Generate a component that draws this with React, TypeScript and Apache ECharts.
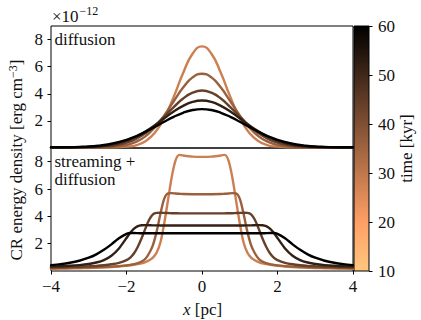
import React, { useEffect, useRef } from "react";
import * as echarts from "echarts";

const FONT = "Liberation Serif";
const TEXT = "#111";

// times (kyr) of the five snapshots, lightest -> darkest
const timesKyr = [28, 36, 44, 52, 60];
const colorbarTicks = [10, 20, 30, 40, 50, 60];
const xTicks = [-4, -2, 0, 2, 4];
const yTicks = [2, 4, 6, 8];

// ---- top panel: diffusion only (units of 1e-12 erg cm^-3) ----
const diffX = [-4, -3.75, -3.5, -3.25, -3, -2.75, -2.5, -2.25, -2, -1.75, -1.5, -1.25, -1, -0.75, -0.5, -0.25, 0, 0.25, 0.5, 0.75, 1, 1.25, 1.5, 1.75, 2, 2.25, 2.5, 2.75, 3, 3.25, 3.5, 3.75, 4];
const diffT28 = [0.04, 0.04, 0.04, 0.04, 0.04, 0.04, 0.05, 0.06, 0.1, 0.2, 0.5, 1.12, 2.21, 3.77, 5.53, 6.95, 7.5, 6.95, 5.53, 3.77, 2.21, 1.12, 0.5, 0.2, 0.1, 0.06, 0.05, 0.04, 0.04, 0.04, 0.04, 0.04, 0.04];
const diffT36 = [0.04, 0.04, 0.04, 0.04, 0.04, 0.05, 0.06, 0.11, 0.22, 0.45, 0.86, 1.52, 2.41, 3.45, 4.46, 5.21, 5.48, 5.21, 4.46, 3.45, 2.41, 1.52, 0.86, 0.45, 0.22, 0.11, 0.06, 0.05, 0.04, 0.04, 0.04, 0.04, 0.04];
const diffT44 = [0.04, 0.04, 0.04, 0.04, 0.05, 0.07, 0.12, 0.22, 0.39, 0.67, 1.09, 1.65, 2.32, 3.02, 3.65, 4.08, 4.24, 4.08, 3.65, 3.02, 2.32, 1.65, 1.09, 0.67, 0.39, 0.22, 0.12, 0.07, 0.05, 0.04, 0.04, 0.04, 0.04];
const diffT52 = [0.04, 0.04, 0.05, 0.06, 0.08, 0.12, 0.2, 0.33, 0.54, 0.83, 1.21, 1.68, 2.19, 2.69, 3.11, 3.4, 3.5, 3.4, 3.11, 2.69, 2.19, 1.68, 1.21, 0.83, 0.54, 0.33, 0.2, 0.12, 0.08, 0.06, 0.05, 0.04, 0.04];
const diffT60 = [0.05, 0.05, 0.06, 0.08, 0.11, 0.17, 0.26, 0.41, 0.6, 0.86, 1.19, 1.56, 1.94, 2.3, 2.6, 2.8, 2.87, 2.8, 2.6, 2.3, 1.94, 1.56, 1.19, 0.86, 0.6, 0.41, 0.26, 0.17, 0.11, 0.08, 0.06, 0.05, 0.05];

// ---- bottom panel: streaming + diffusion ----
const streamX = [-4, -3.75, -3.5, -3.25, -3, -2.8, -2.6, -2.4, -2.2, -2, -1.9, -1.8, -1.7, -1.6, -1.5, -1.4, -1.3, -1.2, -1.1, -1, -0.9, -0.8, -0.7, -0.6, -0.5, -0.25, 0, 0.25, 0.5, 0.6, 0.7, 0.8, 0.9, 1, 1.1, 1.2, 1.3, 1.4, 1.5, 1.6, 1.7, 1.8, 1.9, 2, 2.2, 2.4, 2.6, 2.8, 3, 3.25, 3.5, 3.75, 4];
const streamT28 = [0.17, 0.18, 0.19, 0.2, 0.22, 0.24, 0.26, 0.29, 0.33, 0.38, 0.41, 0.45, 0.5, 0.56, 0.65, 0.78, 0.98, 1.35, 2.1, 3.5, 5.2, 6.9, 8.1, 8.5, 8.45, 8.37, 8.35, 8.37, 8.45, 8.5, 8.1, 6.9, 5.2, 3.5, 2.1, 1.35, 0.98, 0.78, 0.65, 0.56, 0.5, 0.45, 0.41, 0.38, 0.33, 0.29, 0.26, 0.24, 0.22, 0.2, 0.19, 0.18, 0.17];
const streamT36 = [0.2, 0.21, 0.22, 0.24, 0.26, 0.28, 0.3, 0.32, 0.36, 0.41, 0.45, 0.5, 0.58, 0.7, 0.9, 1.3, 1.9, 2.9, 4.2, 5.3, 5.68, 5.7, 5.67, 5.65, 5.63, 5.62, 5.62, 5.62, 5.63, 5.65, 5.67, 5.7, 5.68, 5.3, 4.2, 2.9, 1.9, 1.3, 0.9, 0.7, 0.58, 0.5, 0.45, 0.41, 0.36, 0.32, 0.3, 0.28, 0.26, 0.24, 0.22, 0.21, 0.2];
const streamT44 = [0.26, 0.27, 0.29, 0.31, 0.34, 0.37, 0.42, 0.49, 0.6, 0.8, 0.98, 1.3, 1.78, 2.4, 3.1, 3.75, 4.15, 4.25, 4.26, 4.25, 4.24, 4.23, 4.23, 4.22, 4.22, 4.22, 4.22, 4.22, 4.22, 4.22, 4.23, 4.23, 4.24, 4.25, 4.26, 4.25, 4.15, 3.75, 3.1, 2.4, 1.78, 1.3, 0.98, 0.8, 0.6, 0.49, 0.42, 0.37, 0.34, 0.31, 0.29, 0.27, 0.26];
const streamT52 = [0.33, 0.35, 0.38, 0.43, 0.51, 0.62, 0.8, 1.12, 1.65, 2.42, 2.8, 3.1, 3.28, 3.35, 3.36, 3.35, 3.34, 3.34, 3.33, 3.33, 3.33, 3.33, 3.33, 3.33, 3.33, 3.33, 3.33, 3.33, 3.33, 3.33, 3.33, 3.33, 3.33, 3.33, 3.33, 3.34, 3.34, 3.35, 3.36, 3.35, 3.28, 3.1, 2.8, 2.42, 1.65, 1.12, 0.8, 0.62, 0.51, 0.43, 0.38, 0.35, 0.33];
const streamT60 = [0.43, 0.5, 0.6, 0.75, 0.97, 1.22, 1.55, 1.95, 2.4, 2.72, 2.78, 2.78, 2.77, 2.76, 2.76, 2.76, 2.76, 2.76, 2.76, 2.76, 2.76, 2.76, 2.76, 2.76, 2.76, 2.76, 2.76, 2.76, 2.76, 2.76, 2.76, 2.76, 2.76, 2.76, 2.76, 2.76, 2.76, 2.76, 2.76, 2.76, 2.77, 2.78, 2.78, 2.72, 2.4, 1.95, 1.55, 1.22, 0.97, 0.75, 0.6, 0.5, 0.43];

const diffSets = [diffT28, diffT36, diffT44, diffT52, diffT60];
const streamSets = [streamT28, streamT36, streamT44, streamT52, streamT60];

const T_MIN = 10;
const T_MAX = 60;

// matplotlib "copper_r" colormap
function copperR(t: number): string {
  const v = (T_MAX - t) / (T_MAX - T_MIN);
  const r = Math.round(Math.min(1, 1.25 * v) * 255);
  const g = Math.round(0.7812 * v * 255);
  const b = Math.round(0.4975 * v * 255);
  return `rgb(${r},${g},${b})`;
}

const minus = (v: number) => (v < 0 ? "\u2212" + Math.abs(v) : String(v));

function lineSeries(xs: number[], ys: number[], t: number, gi: number, z: number, smooth: number) {
  return {
    type: "line",
    xAxisIndex: gi,
    yAxisIndex: gi,
    data: xs.map((x, j) => [x, ys[j]]),
    showSymbol: false,
    symbol: "none",
    smooth,
    lineStyle: { width: 2.4, color: copperR(t), cap: "round", join: "round" },
    z,
    silent: true,
  };
}

const txt = (text: string, x: number, y: number, extra: any = {}) => ({
  type: "text",
  x,
  y,
  z: 20,
  ...extra,
  style: { text, fontFamily: FONT, fontSize: 17, fill: TEXT, verticalAlign: "middle", align: "left", ...(extra.style || {}) },
});

export default function App() {
  const ref = useRef<HTMLDivElement>(null);
  useEffect(() => {
    const chart = echarts.init(ref.current!, null, { renderer: "svg" });
    const panelY = (gi: number) => ({
      gridIndex: gi,
      type: "value",
      min: 0,
      max: 9,
      interval: 2,
      axisLine: { show: false, onZero: false },
      splitLine: { show: false },
      axisTick: { show: true, length: 3.5, inside: false, customValues: yTicks, lineStyle: { color: "#000", width: 1 } },
      axisLabel: {
        show: true,
        customValues: yTicks,
        margin: 8,
        fontFamily: FONT,
        fontSize: 17,
        color: TEXT,
        formatter: (v: number) => (yTicks.includes(v) ? String(v) : ""),
      },
    });
    const option: any = {
      animation: false,
      backgroundColor: "#fff",
      textStyle: { fontFamily: FONT },
      grid: [
        { left: 51, top: 26, width: 302, height: 122, show: true, borderColor: "#000", borderWidth: 1, backgroundColor: "transparent" },
        { left: 51, top: 148, width: 302, height: 123, show: true, borderColor: "#000", borderWidth: 1, backgroundColor: "transparent" },
        {
          left: 354,
          top: 26,
          width: 15,
          height: 245,
          show: true,
          borderColor: "#000",
          borderWidth: 1,
          backgroundColor: new echarts.graphic.LinearGradient(0, 0, 0, 1, [
            { offset: 0, color: copperR(60) },
            { offset: 0.8, color: copperR(20) },
            { offset: 1, color: copperR(10) },
          ]),
        },
      ],
      xAxis: [
        { gridIndex: 0, type: "value", min: -4, max: 4, interval: 2, axisLine: { show: false, onZero: false }, axisTick: { show: false }, axisLabel: { show: false }, splitLine: { show: false } },
        {
          gridIndex: 1,
          type: "value",
          min: -4,
          max: 4,
          interval: 2,
          axisLine: { show: false, onZero: false },
          splitLine: { show: false },
          axisTick: { show: true, length: 3.5, inside: false, lineStyle: { color: "#000", width: 1 } },
          axisLabel: { show: true, margin: 7, fontFamily: FONT, fontSize: 17, color: TEXT, formatter: (v: number) => (xTicks.includes(v) ? minus(v) : "") },
        },
        { gridIndex: 2, type: "value", min: 0, max: 1, show: false },
      ],
      yAxis: [
        panelY(0),
        panelY(1),
        {
          gridIndex: 2,
          type: "value",
          position: "right",
          min: T_MIN,
          max: T_MAX,
          interval: 10,
          axisLine: { show: false, onZero: false },
          splitLine: { show: false },
          axisTick: { show: true, length: 3.5, inside: false, lineStyle: { color: "#000", width: 1 } },
          axisLabel: { show: true, margin: 9, fontFamily: FONT, fontSize: 17, color: TEXT, formatter: (v: number) => (colorbarTicks.includes(v) ? String(v) : "") },
        },
      ],
      series: [
        ...diffSets.map((ys, i) => lineSeries(diffX, ys, timesKyr[i], 0, 2 + i, 0.5)),
        ...streamSets.map((ys, i) => lineSeries(streamX, ys, timesKyr[i], 1, 2 + i, 0.3)),
      ],
      graphic: [
        txt("\u00d710", 52, 16),
        txt("\u221212", 79.5, 10.5, { style: { fontSize: 12 } }),
        txt("diffusion", 54.5, 39.5),
        txt("streaming +", 54.5, 161.6),
        txt("diffusion", 54.5, 179.3),
        {
          type: "text",
          x: 202.5,
          y: 309.3,
          z: 20,
          style: {
            text: "{i|x} {n|[pc]}",
            fontFamily: FONT,
            fontSize: 17,
            fill: TEXT,
            align: "center",
            verticalAlign: "middle",
            rich: { i: { fontFamily: FONT, fontSize: 17, fontStyle: "italic", fill: TEXT }, n: { fontFamily: FONT, fontSize: 17, fill: TEXT } },
          },
        },
        {
          type: "text",
          x: 16.5,
          y: 160,
          rotation: Math.PI / 2,
          z: 20,
          style: {
            text: "{n|CR energy density [erg cm}{s|\u22123}{n|]}",
            fontFamily: FONT,
            fontSize: 17,
            fill: TEXT,
            align: "center",
            verticalAlign: "middle",
            rich: {
              n: { fontFamily: FONT, fontSize: 17, lineHeight: 20, fill: TEXT },
              s: { fontFamily: FONT, fontSize: 12, lineHeight: 12, verticalAlign: "top", fill: TEXT },
            },
          },
        },
        txt("time [kyr]", 406.5, 148.5, { rotation: Math.PI / 2, style: { align: "center" } }),
      ],
    };
    chart.setOption(option);
    return () => chart.dispose();
  }, []);
  return <div ref={ref} style={{ position: "fixed", left: 0, top: 0, width: 421, height: 320 }} />;
}
